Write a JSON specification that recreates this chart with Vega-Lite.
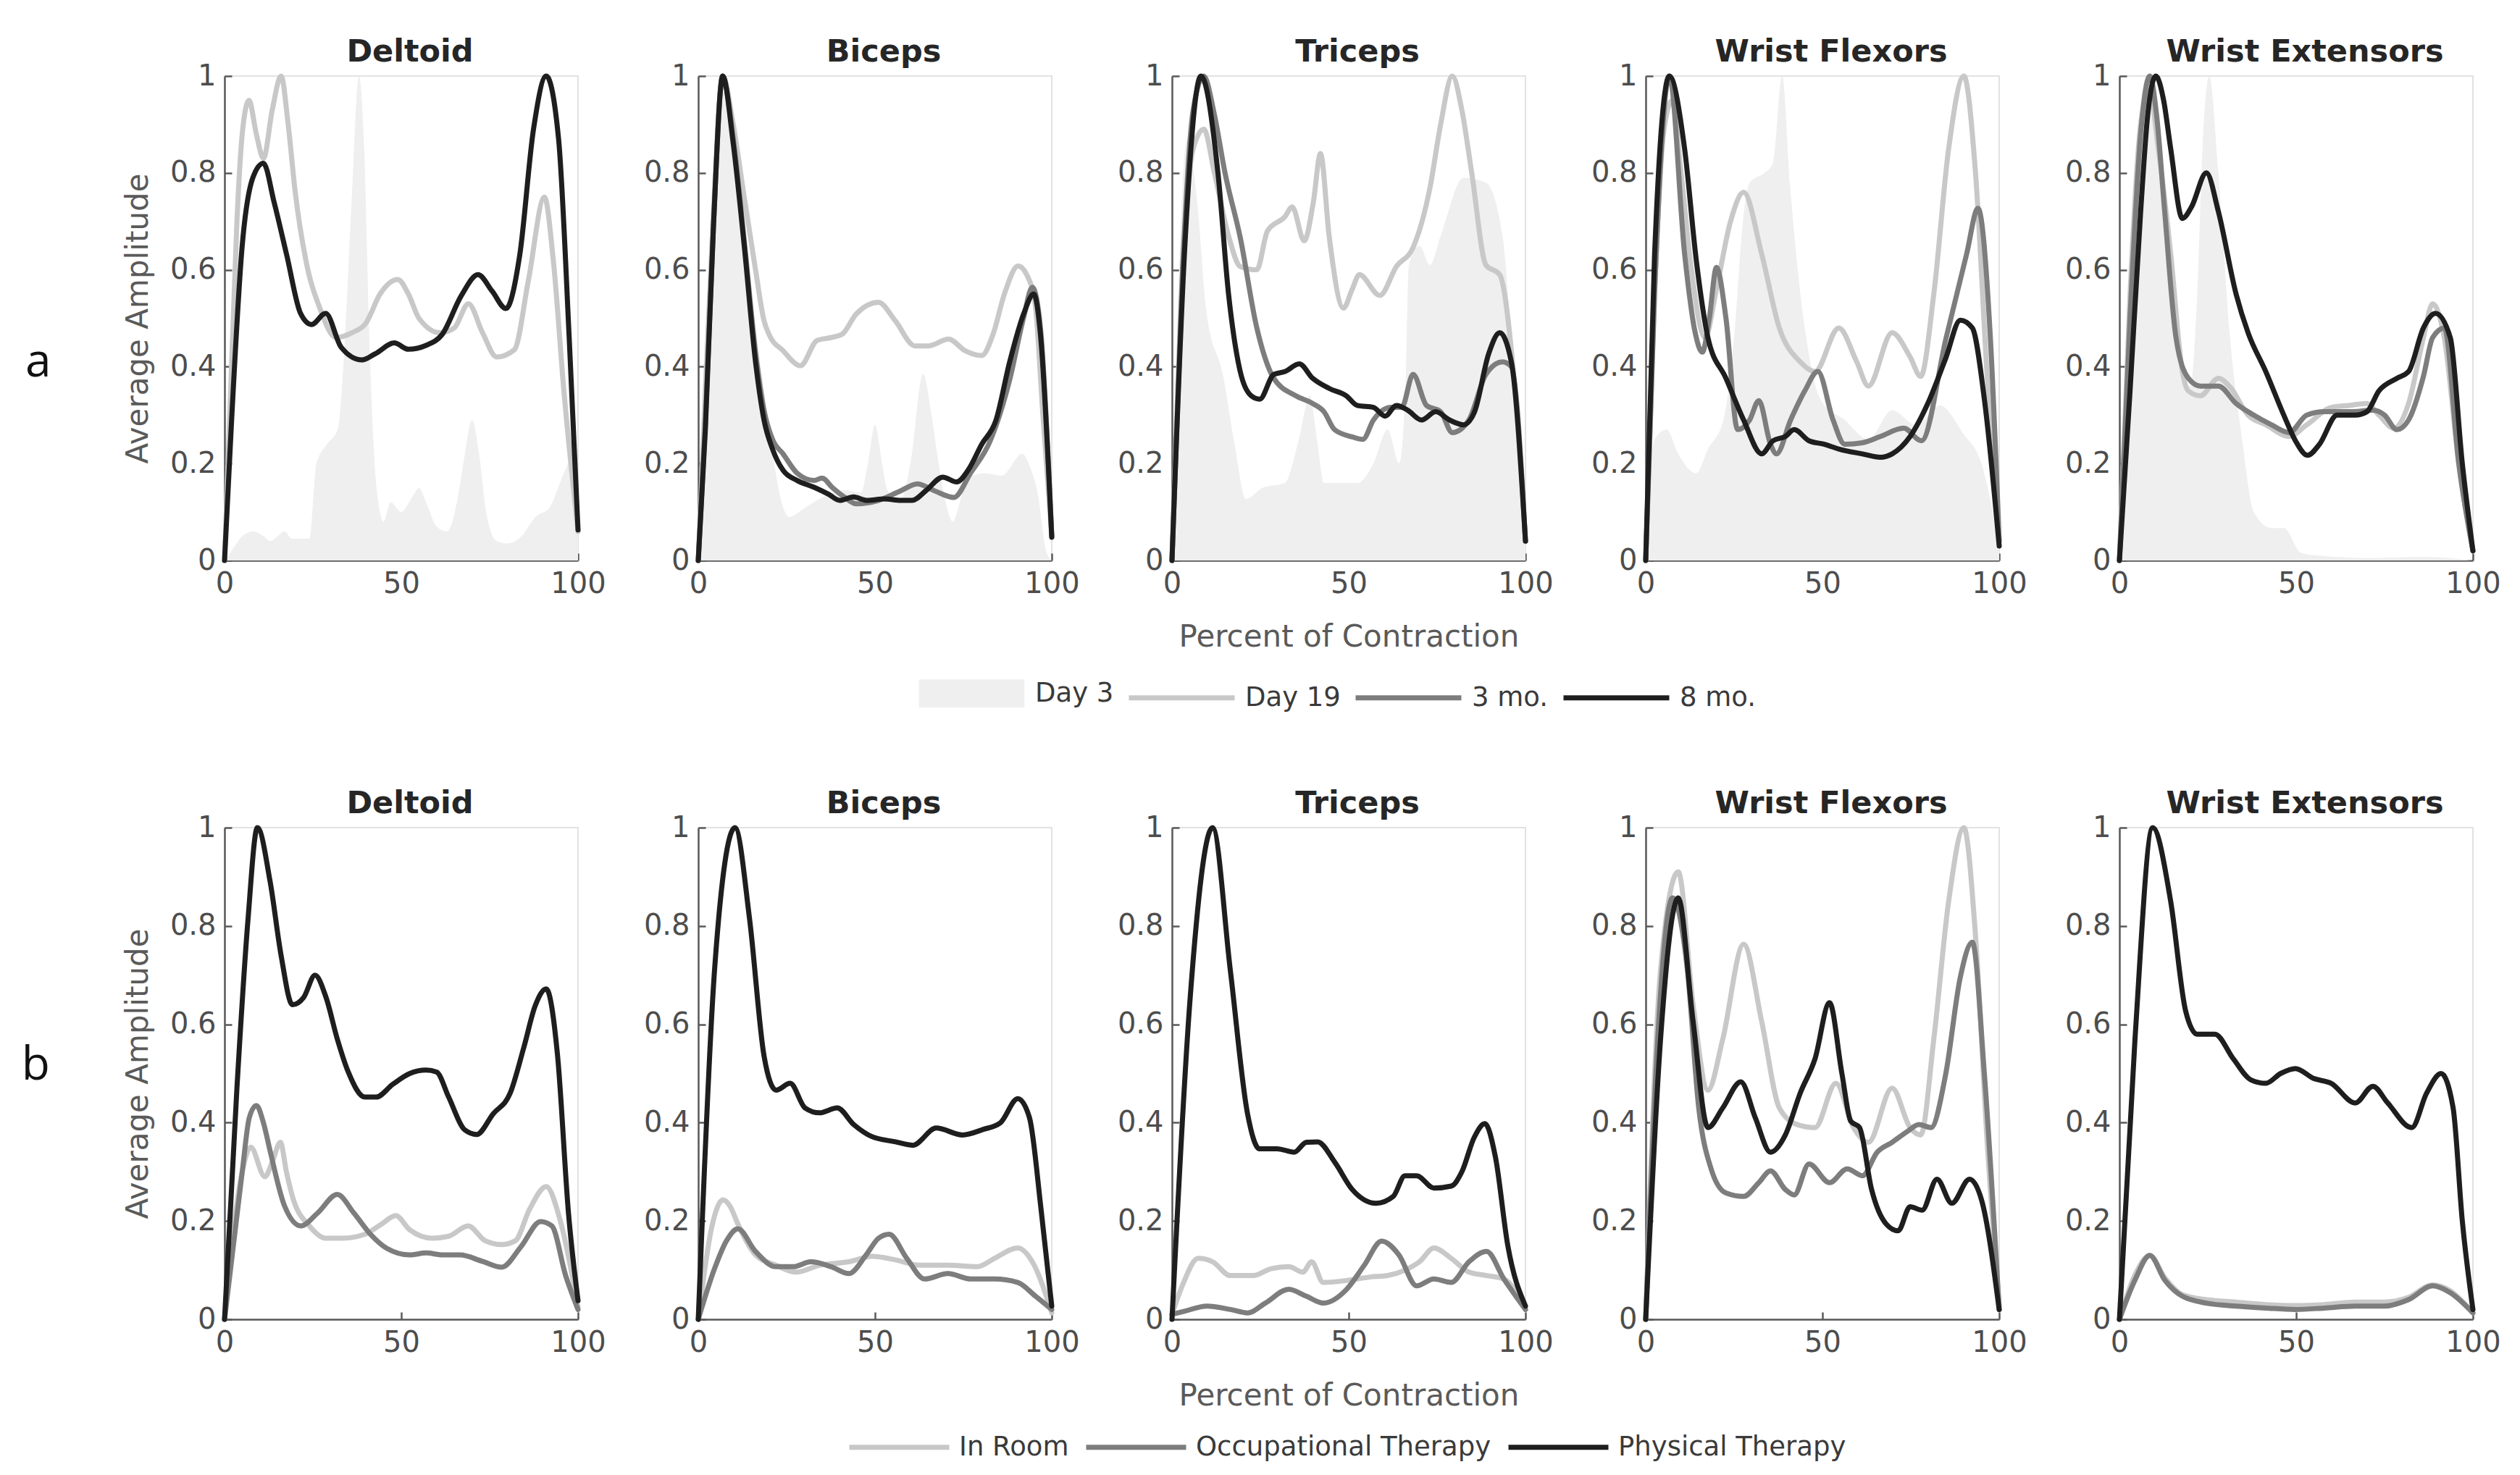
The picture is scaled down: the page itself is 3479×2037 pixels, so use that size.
{
"$schema": "https://vega.github.io/schema/vega-lite/v6.json",
"background": "white",
"padding": {"left": 29, "top": 50, "right": 5, "bottom": 5},
"spacing": 100,
"resolve": {"scale": {"color": "independent"}, "legend": {"color": "independent"}},
"datasets": {
"a": [
{"m":"DEL","s":"Day 3","x":0,"y":0},{"m":"DEL","s":"Day 3","x":2,"y":0.02},{"m":"DEL","s":"Day 3","x":5,"y":0.05},{"m":"DEL","s":"Day 3","x":8,"y":0.06},{"m":"DEL","s":"Day 3","x":11,"y":0.05},{"m":"DEL","s":"Day 3","x":13,"y":0.04},{"m":"DEL","s":"Day 3","x":15,"y":0.05},{"m":"DEL","s":"Day 3","x":17,"y":0.06},{"m":"DEL","s":"Day 3","x":19,"y":0.045},{"m":"DEL","s":"Day 3","x":24,"y":0.045},{"m":"DEL","s":"Day 3","x":26,"y":0.2},{"m":"DEL","s":"Day 3","x":29,"y":0.24},{"m":"DEL","s":"Day 3","x":32,"y":0.27},{"m":"DEL","s":"Day 3","x":34,"y":0.45},{"m":"DEL","s":"Day 3","x":36,"y":0.75},{"m":"DEL","s":"Day 3","x":38,"y":1},{"m":"DEL","s":"Day 3","x":39.5,"y":0.85},{"m":"DEL","s":"Day 3","x":41,"y":0.45},{"m":"DEL","s":"Day 3","x":43,"y":0.15},{"m":"DEL","s":"Day 3","x":45,"y":0.08},{"m":"DEL","s":"Day 3","x":47,"y":0.12},{"m":"DEL","s":"Day 3","x":50,"y":0.1},{"m":"DEL","s":"Day 3","x":53,"y":0.13},{"m":"DEL","s":"Day 3","x":55,"y":0.15},{"m":"DEL","s":"Day 3","x":57,"y":0.12},{"m":"DEL","s":"Day 3","x":60,"y":0.07},{"m":"DEL","s":"Day 3","x":63,"y":0.06},{"m":"DEL","s":"Day 3","x":66,"y":0.13},{"m":"DEL","s":"Day 3","x":68,"y":0.22},{"m":"DEL","s":"Day 3","x":70,"y":0.29},{"m":"DEL","s":"Day 3","x":72,"y":0.22},{"m":"DEL","s":"Day 3","x":74,"y":0.1},{"m":"DEL","s":"Day 3","x":77,"y":0.04},{"m":"DEL","s":"Day 3","x":80,"y":0.035},{"m":"DEL","s":"Day 3","x":84,"y":0.05},{"m":"DEL","s":"Day 3","x":88,"y":0.09},{"m":"DEL","s":"Day 3","x":92,"y":0.11},{"m":"DEL","s":"Day 3","x":96,"y":0.18},{"m":"DEL","s":"Day 3","x":99,"y":0.22},{"m":"DEL","s":"Day 3","x":100,"y":0.05},
{"m":"DEL","s":"Day 19","x":0,"y":0},{"m":"DEL","s":"Day 19","x":1.5,"y":0.3},{"m":"DEL","s":"Day 19","x":3.5,"y":0.7},{"m":"DEL","s":"Day 19","x":5,"y":0.88},{"m":"DEL","s":"Day 19","x":6.9,"y":0.95},{"m":"DEL","s":"Day 19","x":9,"y":0.88},{"m":"DEL","s":"Day 19","x":11,"y":0.83},{"m":"DEL","s":"Day 19","x":13.5,"y":0.93},{"m":"DEL","s":"Day 19","x":16,"y":1},{"m":"DEL","s":"Day 19","x":18,"y":0.9},{"m":"DEL","s":"Day 19","x":20,"y":0.76},{"m":"DEL","s":"Day 19","x":23,"y":0.62},{"m":"DEL","s":"Day 19","x":27,"y":0.52},{"m":"DEL","s":"Day 19","x":31.5,"y":0.46},{"m":"DEL","s":"Day 19","x":36,"y":0.47},{"m":"DEL","s":"Day 19","x":40,"y":0.49},{"m":"DEL","s":"Day 19","x":44,"y":0.55},{"m":"DEL","s":"Day 19","x":49,"y":0.58},{"m":"DEL","s":"Day 19","x":52,"y":0.55},{"m":"DEL","s":"Day 19","x":55,"y":0.5},{"m":"DEL","s":"Day 19","x":61,"y":0.47},{"m":"DEL","s":"Day 19","x":65,"y":0.48},{"m":"DEL","s":"Day 19","x":69,"y":0.53},{"m":"DEL","s":"Day 19","x":73,"y":0.47},{"m":"DEL","s":"Day 19","x":77,"y":0.42},{"m":"DEL","s":"Day 19","x":82,"y":0.435},{"m":"DEL","s":"Day 19","x":86,"y":0.58},{"m":"DEL","s":"Day 19","x":90.5,"y":0.75},{"m":"DEL","s":"Day 19","x":93,"y":0.62},{"m":"DEL","s":"Day 19","x":96,"y":0.35},{"m":"DEL","s":"Day 19","x":100,"y":0.06},
{"m":"DEL","s":"8 mo.","x":0,"y":0},{"m":"DEL","s":"8 mo.","x":2,"y":0.29},{"m":"DEL","s":"8 mo.","x":5,"y":0.65},{"m":"DEL","s":"8 mo.","x":8,"y":0.79},{"m":"DEL","s":"8 mo.","x":11,"y":0.82},{"m":"DEL","s":"8 mo.","x":14,"y":0.74},{"m":"DEL","s":"8 mo.","x":17.6,"y":0.63},{"m":"DEL","s":"8 mo.","x":21.5,"y":0.51},{"m":"DEL","s":"8 mo.","x":24.6,"y":0.487},{"m":"DEL","s":"8 mo.","x":28.6,"y":0.51},{"m":"DEL","s":"8 mo.","x":33,"y":0.44},{"m":"DEL","s":"8 mo.","x":38.8,"y":0.414},{"m":"DEL","s":"8 mo.","x":42.7,"y":0.427},{"m":"DEL","s":"8 mo.","x":48,"y":0.449},{"m":"DEL","s":"8 mo.","x":52,"y":0.436},{"m":"DEL","s":"8 mo.","x":57,"y":0.444},{"m":"DEL","s":"8 mo.","x":61.5,"y":0.466},{"m":"DEL","s":"8 mo.","x":67,"y":0.547},{"m":"DEL","s":"8 mo.","x":71.7,"y":0.59},{"m":"DEL","s":"8 mo.","x":75.7,"y":0.556},{"m":"DEL","s":"8 mo.","x":79.6,"y":0.52},{"m":"DEL","s":"8 mo.","x":83.5,"y":0.63},{"m":"DEL","s":"8 mo.","x":87.4,"y":0.89},{"m":"DEL","s":"8 mo.","x":91,"y":1},{"m":"DEL","s":"8 mo.","x":94.5,"y":0.87},{"m":"DEL","s":"8 mo.","x":97.5,"y":0.46},{"m":"DEL","s":"8 mo.","x":100,"y":0.063},
{"m":"BIC","s":"Day 3","x":0,"y":0},{"m":"BIC","s":"Day 3","x":2,"y":0.41},{"m":"BIC","s":"Day 3","x":4.3,"y":0.76},{"m":"BIC","s":"Day 3","x":6.9,"y":1},{"m":"BIC","s":"Day 3","x":9.9,"y":0.88},{"m":"BIC","s":"Day 3","x":13,"y":0.67},{"m":"BIC","s":"Day 3","x":16.2,"y":0.48},{"m":"BIC","s":"Day 3","x":19.4,"y":0.31},{"m":"BIC","s":"Day 3","x":21.7,"y":0.19},{"m":"BIC","s":"Day 3","x":24,"y":0.11},{"m":"BIC","s":"Day 3","x":25.7,"y":0.09},{"m":"BIC","s":"Day 3","x":30.4,"y":0.11},{"m":"BIC","s":"Day 3","x":35,"y":0.13},{"m":"BIC","s":"Day 3","x":41.5,"y":0.145},{"m":"BIC","s":"Day 3","x":46,"y":0.14},{"m":"BIC","s":"Day 3","x":48,"y":0.2},{"m":"BIC","s":"Day 3","x":50,"y":0.28},{"m":"BIC","s":"Day 3","x":52,"y":0.2},{"m":"BIC","s":"Day 3","x":53.5,"y":0.145},{"m":"BIC","s":"Day 3","x":57,"y":0.12},{"m":"BIC","s":"Day 3","x":60,"y":0.2},{"m":"BIC","s":"Day 3","x":63.6,"y":0.385},{"m":"BIC","s":"Day 3","x":66,"y":0.3},{"m":"BIC","s":"Day 3","x":67.6,"y":0.22},{"m":"BIC","s":"Day 3","x":70,"y":0.12},{"m":"BIC","s":"Day 3","x":72,"y":0.08},{"m":"BIC","s":"Day 3","x":74,"y":0.12},{"m":"BIC","s":"Day 3","x":76,"y":0.17},{"m":"BIC","s":"Day 3","x":81,"y":0.18},{"m":"BIC","s":"Day 3","x":85.8,"y":0.175},{"m":"BIC","s":"Day 3","x":91.7,"y":0.22},{"m":"BIC","s":"Day 3","x":94,"y":0.19},{"m":"BIC","s":"Day 3","x":96,"y":0.14},{"m":"BIC","s":"Day 3","x":98.4,"y":0.02},{"m":"BIC","s":"Day 3","x":100,"y":0},
{"m":"BIC","s":"Day 19","x":0,"y":0},{"m":"BIC","s":"Day 19","x":2,"y":0.35},{"m":"BIC","s":"Day 19","x":4.3,"y":0.72},{"m":"BIC","s":"Day 19","x":6.9,"y":1},{"m":"BIC","s":"Day 19","x":9.9,"y":0.9},{"m":"BIC","s":"Day 19","x":13,"y":0.75},{"m":"BIC","s":"Day 19","x":16.2,"y":0.6},{"m":"BIC","s":"Day 19","x":18.6,"y":0.495},{"m":"BIC","s":"Day 19","x":20,"y":0.467},{"m":"BIC","s":"Day 19","x":24,"y":0.433},{"m":"BIC","s":"Day 19","x":28.9,"y":0.402},{"m":"BIC","s":"Day 19","x":33.6,"y":0.454},{"m":"BIC","s":"Day 19","x":37.5,"y":0.46},{"m":"BIC","s":"Day 19","x":40.7,"y":0.467},{"m":"BIC","s":"Day 19","x":44.7,"y":0.509},{"m":"BIC","s":"Day 19","x":51,"y":0.533},{"m":"BIC","s":"Day 19","x":55.7,"y":0.495},{"m":"BIC","s":"Day 19","x":61.3,"y":0.443},{"m":"BIC","s":"Day 19","x":65.2,"y":0.443},{"m":"BIC","s":"Day 19","x":70.8,"y":0.457},{"m":"BIC","s":"Day 19","x":75.5,"y":0.433},{"m":"BIC","s":"Day 19","x":80.2,"y":0.423},{"m":"BIC","s":"Day 19","x":83.4,"y":0.467},{"m":"BIC","s":"Day 19","x":86.6,"y":0.55},{"m":"BIC","s":"Day 19","x":90.5,"y":0.608},{"m":"BIC","s":"Day 19","x":92.9,"y":0.59},{"m":"BIC","s":"Day 19","x":95.3,"y":0.53},{"m":"BIC","s":"Day 19","x":97.5,"y":0.3},{"m":"BIC","s":"Day 19","x":100,"y":0.05},
{"m":"BIC","s":"3 mo.","x":0,"y":0},{"m":"BIC","s":"3 mo.","x":2,"y":0.28},{"m":"BIC","s":"3 mo.","x":4.3,"y":0.69},{"m":"BIC","s":"3 mo.","x":6.9,"y":1},{"m":"BIC","s":"3 mo.","x":9.9,"y":0.87},{"m":"BIC","s":"3 mo.","x":13,"y":0.66},{"m":"BIC","s":"3 mo.","x":16.2,"y":0.43},{"m":"BIC","s":"3 mo.","x":18.6,"y":0.31},{"m":"BIC","s":"3 mo.","x":21,"y":0.25},{"m":"BIC","s":"3 mo.","x":24,"y":0.22},{"m":"BIC","s":"3 mo.","x":28,"y":0.18},{"m":"BIC","s":"3 mo.","x":32.8,"y":0.165},{"m":"BIC","s":"3 mo.","x":35,"y":0.17},{"m":"BIC","s":"3 mo.","x":38,"y":0.15},{"m":"BIC","s":"3 mo.","x":41.5,"y":0.13},{"m":"BIC","s":"3 mo.","x":44.7,"y":0.117},{"m":"BIC","s":"3 mo.","x":51,"y":0.124},{"m":"BIC","s":"3 mo.","x":57.3,"y":0.144},{"m":"BIC","s":"3 mo.","x":62,"y":0.158},{"m":"BIC","s":"3 mo.","x":66.8,"y":0.144},{"m":"BIC","s":"3 mo.","x":72.3,"y":0.13},{"m":"BIC","s":"3 mo.","x":77,"y":0.18},{"m":"BIC","s":"3 mo.","x":82.6,"y":0.247},{"m":"BIC","s":"3 mo.","x":88,"y":0.37},{"m":"BIC","s":"3 mo.","x":92,"y":0.5},{"m":"BIC","s":"3 mo.","x":94.5,"y":0.564},{"m":"BIC","s":"3 mo.","x":96.8,"y":0.48},{"m":"BIC","s":"3 mo.","x":100,"y":0.05},
{"m":"BIC","s":"8 mo.","x":0,"y":0},{"m":"BIC","s":"8 mo.","x":2,"y":0.27},{"m":"BIC","s":"8 mo.","x":4.3,"y":0.69},{"m":"BIC","s":"8 mo.","x":6.9,"y":1},{"m":"BIC","s":"8 mo.","x":9.9,"y":0.86},{"m":"BIC","s":"8 mo.","x":13,"y":0.65},{"m":"BIC","s":"8 mo.","x":16.2,"y":0.41},{"m":"BIC","s":"8 mo.","x":18.6,"y":0.29},{"m":"BIC","s":"8 mo.","x":21,"y":0.23},{"m":"BIC","s":"8 mo.","x":24,"y":0.186},{"m":"BIC","s":"8 mo.","x":28,"y":0.165},{"m":"BIC","s":"8 mo.","x":32.8,"y":0.151},{"m":"BIC","s":"8 mo.","x":36.8,"y":0.137},{"m":"BIC","s":"8 mo.","x":40,"y":0.124},{"m":"BIC","s":"8 mo.","x":43.9,"y":0.131},{"m":"BIC","s":"8 mo.","x":47.8,"y":0.124},{"m":"BIC","s":"8 mo.","x":52.6,"y":0.127},{"m":"BIC","s":"8 mo.","x":57.3,"y":0.124},{"m":"BIC","s":"8 mo.","x":60.5,"y":0.124},{"m":"BIC","s":"8 mo.","x":64.4,"y":0.144},{"m":"BIC","s":"8 mo.","x":69.2,"y":0.172},{"m":"BIC","s":"8 mo.","x":73.1,"y":0.162},{"m":"BIC","s":"8 mo.","x":76.3,"y":0.186},{"m":"BIC","s":"8 mo.","x":80.2,"y":0.24},{"m":"BIC","s":"8 mo.","x":84.2,"y":0.289},{"m":"BIC","s":"8 mo.","x":88.1,"y":0.41},{"m":"BIC","s":"8 mo.","x":92.1,"y":0.51},{"m":"BIC","s":"8 mo.","x":94.9,"y":0.55},{"m":"BIC","s":"8 mo.","x":96.8,"y":0.467},{"m":"BIC","s":"8 mo.","x":100,"y":0.048},
{"m":"TRI","s":"Day 3","x":0,"y":0},{"m":"TRI","s":"Day 3","x":2,"y":0.6},{"m":"TRI","s":"Day 3","x":4.3,"y":0.87},{"m":"TRI","s":"Day 3","x":7,"y":0.75},{"m":"TRI","s":"Day 3","x":9.8,"y":0.51},{"m":"TRI","s":"Day 3","x":14.5,"y":0.38},{"m":"TRI","s":"Day 3","x":17.7,"y":0.24},{"m":"TRI","s":"Day 3","x":20.9,"y":0.127},{"m":"TRI","s":"Day 3","x":25.6,"y":0.15},{"m":"TRI","s":"Day 3","x":31.9,"y":0.16},{"m":"TRI","s":"Day 3","x":35.9,"y":0.25},{"m":"TRI","s":"Day 3","x":39,"y":0.34},{"m":"TRI","s":"Day 3","x":41,"y":0.25},{"m":"TRI","s":"Day 3","x":43,"y":0.16},{"m":"TRI","s":"Day 3","x":48.5,"y":0.16},{"m":"TRI","s":"Day 3","x":52.4,"y":0.16},{"m":"TRI","s":"Day 3","x":57,"y":0.2},{"m":"TRI","s":"Day 3","x":61,"y":0.27},{"m":"TRI","s":"Day 3","x":64.3,"y":0.2},{"m":"TRI","s":"Day 3","x":66,"y":0.35},{"m":"TRI","s":"Day 3","x":67,"y":0.61},{"m":"TRI","s":"Day 3","x":70,"y":0.65},{"m":"TRI","s":"Day 3","x":73,"y":0.61},{"m":"TRI","s":"Day 3","x":76,"y":0.67},{"m":"TRI","s":"Day 3","x":82.5,"y":0.79},{"m":"TRI","s":"Day 3","x":88.8,"y":0.78},{"m":"TRI","s":"Day 3","x":93.5,"y":0.67},{"m":"TRI","s":"Day 3","x":96.7,"y":0.38},{"m":"TRI","s":"Day 3","x":100,"y":0.04},
{"m":"TRI","s":"Day 19","x":0,"y":0},{"m":"TRI","s":"Day 19","x":3,"y":0.6},{"m":"TRI","s":"Day 19","x":6,"y":0.85},{"m":"TRI","s":"Day 19","x":9,"y":0.89},{"m":"TRI","s":"Day 19","x":12,"y":0.8},{"m":"TRI","s":"Day 19","x":16,"y":0.67},{"m":"TRI","s":"Day 19","x":19.3,"y":0.607},{"m":"TRI","s":"Day 19","x":24,"y":0.6},{"m":"TRI","s":"Day 19","x":27,"y":0.68},{"m":"TRI","s":"Day 19","x":32,"y":0.71},{"m":"TRI","s":"Day 19","x":34,"y":0.73},{"m":"TRI","s":"Day 19","x":37.4,"y":0.66},{"m":"TRI","s":"Day 19","x":40,"y":0.74},{"m":"TRI","s":"Day 19","x":42,"y":0.84},{"m":"TRI","s":"Day 19","x":44.5,"y":0.667},{"m":"TRI","s":"Day 19","x":48.5,"y":0.521},{"m":"TRI","s":"Day 19","x":51,"y":0.56},{"m":"TRI","s":"Day 19","x":53,"y":0.59},{"m":"TRI","s":"Day 19","x":58.8,"y":0.547},{"m":"TRI","s":"Day 19","x":63.5,"y":0.607},{"m":"TRI","s":"Day 19","x":68.2,"y":0.646},{"m":"TRI","s":"Day 19","x":73,"y":0.77},{"m":"TRI","s":"Day 19","x":76,"y":0.9},{"m":"TRI","s":"Day 19","x":79.3,"y":1},{"m":"TRI","s":"Day 19","x":82,"y":0.93},{"m":"TRI","s":"Day 19","x":84.8,"y":0.8},{"m":"TRI","s":"Day 19","x":88.8,"y":0.61},{"m":"TRI","s":"Day 19","x":92.7,"y":0.59},{"m":"TRI","s":"Day 19","x":96.7,"y":0.38},{"m":"TRI","s":"Day 19","x":100,"y":0.04},
{"m":"TRI","s":"3 mo.","x":0,"y":0},{"m":"TRI","s":"3 mo.","x":3,"y":0.6},{"m":"TRI","s":"3 mo.","x":6,"y":0.93},{"m":"TRI","s":"3 mo.","x":9,"y":1},{"m":"TRI","s":"3 mo.","x":12,"y":0.92},{"m":"TRI","s":"3 mo.","x":15,"y":0.8},{"m":"TRI","s":"3 mo.","x":19.3,"y":0.667},{"m":"TRI","s":"3 mo.","x":24,"y":0.48},{"m":"TRI","s":"3 mo.","x":28.8,"y":0.376},{"m":"TRI","s":"3 mo.","x":35,"y":0.34},{"m":"TRI","s":"3 mo.","x":39.8,"y":0.324},{"m":"TRI","s":"3 mo.","x":43,"y":0.307},{"m":"TRI","s":"3 mo.","x":46,"y":0.27},{"m":"TRI","s":"3 mo.","x":51,"y":0.255},{"m":"TRI","s":"3 mo.","x":54,"y":0.25},{"m":"TRI","s":"3 mo.","x":57,"y":0.29},{"m":"TRI","s":"3 mo.","x":62,"y":0.316},{"m":"TRI","s":"3 mo.","x":65,"y":0.316},{"m":"TRI","s":"3 mo.","x":68.2,"y":0.384},{"m":"TRI","s":"3 mo.","x":72,"y":0.32},{"m":"TRI","s":"3 mo.","x":76,"y":0.307},{"m":"TRI","s":"3 mo.","x":79.3,"y":0.264},{"m":"TRI","s":"3 mo.","x":84,"y":0.29},{"m":"TRI","s":"3 mo.","x":88.8,"y":0.384},{"m":"TRI","s":"3 mo.","x":93.5,"y":0.41},{"m":"TRI","s":"3 mo.","x":96,"y":0.4},{"m":"TRI","s":"3 mo.","x":100,"y":0.04},
{"m":"TRI","s":"8 mo.","x":0,"y":0},{"m":"TRI","s":"8 mo.","x":3.5,"y":0.63},{"m":"TRI","s":"8 mo.","x":8.2,"y":1},{"m":"TRI","s":"8 mo.","x":13,"y":0.8},{"m":"TRI","s":"8 mo.","x":16,"y":0.55},{"m":"TRI","s":"8 mo.","x":19.3,"y":0.39},{"m":"TRI","s":"8 mo.","x":22.4,"y":0.34},{"m":"TRI","s":"8 mo.","x":24.8,"y":0.333},{"m":"TRI","s":"8 mo.","x":28.8,"y":0.384},{"m":"TRI","s":"8 mo.","x":32,"y":0.39},{"m":"TRI","s":"8 mo.","x":36,"y":0.406},{"m":"TRI","s":"8 mo.","x":39.8,"y":0.376},{"m":"TRI","s":"8 mo.","x":44.5,"y":0.355},{"m":"TRI","s":"8 mo.","x":49.3,"y":0.34},{"m":"TRI","s":"8 mo.","x":52.4,"y":0.32},{"m":"TRI","s":"8 mo.","x":57,"y":0.316},{"m":"TRI","s":"8 mo.","x":60.3,"y":0.298},{"m":"TRI","s":"8 mo.","x":63.5,"y":0.32},{"m":"TRI","s":"8 mo.","x":66.7,"y":0.31},{"m":"TRI","s":"8 mo.","x":70.6,"y":0.29},{"m":"TRI","s":"8 mo.","x":74.6,"y":0.307},{"m":"TRI","s":"8 mo.","x":78.5,"y":0.29},{"m":"TRI","s":"8 mo.","x":82.5,"y":0.28},{"m":"TRI","s":"8 mo.","x":85.6,"y":0.307},{"m":"TRI","s":"8 mo.","x":89.6,"y":0.427},{"m":"TRI","s":"8 mo.","x":92.7,"y":0.47},{"m":"TRI","s":"8 mo.","x":96,"y":0.41},{"m":"TRI","s":"8 mo.","x":100,"y":0.04},
{"m":"WFL","s":"Day 3","x":0,"y":0},{"m":"WFL","s":"Day 3","x":1,"y":0.15},{"m":"WFL","s":"Day 3","x":2.5,"y":0.25},{"m":"WFL","s":"Day 3","x":5.9,"y":0.27},{"m":"WFL","s":"Day 3","x":9.2,"y":0.22},{"m":"WFL","s":"Day 3","x":12,"y":0.19},{"m":"WFL","s":"Day 3","x":14.3,"y":0.18},{"m":"WFL","s":"Day 3","x":17.6,"y":0.23},{"m":"WFL","s":"Day 3","x":22,"y":0.29},{"m":"WFL","s":"Day 3","x":25,"y":0.46},{"m":"WFL","s":"Day 3","x":27.5,"y":0.7},{"m":"WFL","s":"Day 3","x":29.4,"y":0.78},{"m":"WFL","s":"Day 3","x":33.6,"y":0.8},{"m":"WFL","s":"Day 3","x":36,"y":0.82},{"m":"WFL","s":"Day 3","x":38.6,"y":1},{"m":"WFL","s":"Day 3","x":41,"y":0.76},{"m":"WFL","s":"Day 3","x":43,"y":0.6},{"m":"WFL","s":"Day 3","x":45.4,"y":0.46},{"m":"WFL","s":"Day 3","x":49.6,"y":0.33},{"m":"WFL","s":"Day 3","x":56.3,"y":0.29},{"m":"WFL","s":"Day 3","x":63,"y":0.25},{"m":"WFL","s":"Day 3","x":69.7,"y":0.31},{"m":"WFL","s":"Day 3","x":76.5,"y":0.28},{"m":"WFL","s":"Day 3","x":83.2,"y":0.32},{"m":"WFL","s":"Day 3","x":90,"y":0.26},{"m":"WFL","s":"Day 3","x":95,"y":0.2},{"m":"WFL","s":"Day 3","x":100,"y":0.03},
{"m":"WFL","s":"Day 19","x":0,"y":0},{"m":"WFL","s":"Day 19","x":2.5,"y":0.55},{"m":"WFL","s":"Day 19","x":5,"y":0.88},{"m":"WFL","s":"Day 19","x":7.5,"y":0.95},{"m":"WFL","s":"Day 19","x":10,"y":0.8},{"m":"WFL","s":"Day 19","x":12.6,"y":0.62},{"m":"WFL","s":"Day 19","x":16.8,"y":0.46},{"m":"WFL","s":"Day 19","x":20,"y":0.56},{"m":"WFL","s":"Day 19","x":24,"y":0.7},{"m":"WFL","s":"Day 19","x":27.7,"y":0.76},{"m":"WFL","s":"Day 19","x":32.8,"y":0.633},{"m":"WFL","s":"Day 19","x":37.8,"y":0.48},{"m":"WFL","s":"Day 19","x":43.7,"y":0.41},{"m":"WFL","s":"Day 19","x":47.9,"y":0.39},{"m":"WFL","s":"Day 19","x":54.6,"y":0.48},{"m":"WFL","s":"Day 19","x":59.7,"y":0.41},{"m":"WFL","s":"Day 19","x":63,"y":0.36},{"m":"WFL","s":"Day 19","x":69.7,"y":0.47},{"m":"WFL","s":"Day 19","x":74.8,"y":0.42},{"m":"WFL","s":"Day 19","x":77.8,"y":0.38},{"m":"WFL","s":"Day 19","x":81.5,"y":0.55},{"m":"WFL","s":"Day 19","x":85.7,"y":0.85},{"m":"WFL","s":"Day 19","x":90,"y":1},{"m":"WFL","s":"Day 19","x":93.3,"y":0.8},{"m":"WFL","s":"Day 19","x":96.6,"y":0.38},{"m":"WFL","s":"Day 19","x":100,"y":0.04},
{"m":"WFL","s":"3 mo.","x":0,"y":0},{"m":"WFL","s":"3 mo.","x":2.5,"y":0.55},{"m":"WFL","s":"3 mo.","x":6.7,"y":1},{"m":"WFL","s":"3 mo.","x":11,"y":0.633},{"m":"WFL","s":"3 mo.","x":14,"y":0.47},{"m":"WFL","s":"3 mo.","x":16,"y":0.43},{"m":"WFL","s":"3 mo.","x":18,"y":0.5},{"m":"WFL","s":"3 mo.","x":20,"y":0.605},{"m":"WFL","s":"3 mo.","x":22.7,"y":0.5},{"m":"WFL","s":"3 mo.","x":26,"y":0.27},{"m":"WFL","s":"3 mo.","x":29.4,"y":0.29},{"m":"WFL","s":"3 mo.","x":32,"y":0.33},{"m":"WFL","s":"3 mo.","x":35.3,"y":0.24},{"m":"WFL","s":"3 mo.","x":37,"y":0.22},{"m":"WFL","s":"3 mo.","x":41,"y":0.29},{"m":"WFL","s":"3 mo.","x":45,"y":0.35},{"m":"WFL","s":"3 mo.","x":48.7,"y":0.39},{"m":"WFL","s":"3 mo.","x":53,"y":0.29},{"m":"WFL","s":"3 mo.","x":56.3,"y":0.24},{"m":"WFL","s":"3 mo.","x":61.3,"y":0.243},{"m":"WFL","s":"3 mo.","x":66.4,"y":0.256},{"m":"WFL","s":"3 mo.","x":73,"y":0.273},{"m":"WFL","s":"3 mo.","x":78,"y":0.247},{"m":"WFL","s":"3 mo.","x":85,"y":0.46},{"m":"WFL","s":"3 mo.","x":90.8,"y":0.633},{"m":"WFL","s":"3 mo.","x":94,"y":0.727},{"m":"WFL","s":"3 mo.","x":97.5,"y":0.46},{"m":"WFL","s":"3 mo.","x":100,"y":0.04},
{"m":"WFL","s":"8 mo.","x":0,"y":0},{"m":"WFL","s":"8 mo.","x":2.5,"y":0.63},{"m":"WFL","s":"8 mo.","x":6.7,"y":1},{"m":"WFL","s":"8 mo.","x":11,"y":0.85},{"m":"WFL","s":"8 mo.","x":14.3,"y":0.62},{"m":"WFL","s":"8 mo.","x":17.6,"y":0.46},{"m":"WFL","s":"8 mo.","x":22.7,"y":0.376},{"m":"WFL","s":"8 mo.","x":27.7,"y":0.29},{"m":"WFL","s":"8 mo.","x":32.8,"y":0.22},{"m":"WFL","s":"8 mo.","x":36,"y":0.247},{"m":"WFL","s":"8 mo.","x":39.5,"y":0.256},{"m":"WFL","s":"8 mo.","x":42,"y":0.27},{"m":"WFL","s":"8 mo.","x":46.2,"y":0.247},{"m":"WFL","s":"8 mo.","x":50.4,"y":0.24},{"m":"WFL","s":"8 mo.","x":54.6,"y":0.23},{"m":"WFL","s":"8 mo.","x":61.3,"y":0.22},{"m":"WFL","s":"8 mo.","x":66.4,"y":0.213},{"m":"WFL","s":"8 mo.","x":69.7,"y":0.22},{"m":"WFL","s":"8 mo.","x":74.8,"y":0.256},{"m":"WFL","s":"8 mo.","x":79.8,"y":0.324},{"m":"WFL","s":"8 mo.","x":84.9,"y":0.418},{"m":"WFL","s":"8 mo.","x":89,"y":0.496},{"m":"WFL","s":"8 mo.","x":92.4,"y":0.48},{"m":"WFL","s":"8 mo.","x":95.8,"y":0.333},{"m":"WFL","s":"8 mo.","x":100,"y":0.03},
{"m":"WEX","s":"Day 3","x":0,"y":0},{"m":"WEX","s":"Day 3","x":3,"y":0.6},{"m":"WEX","s":"Day 3","x":6,"y":0.95},{"m":"WEX","s":"Day 3","x":8,"y":1},{"m":"WEX","s":"Day 3","x":11,"y":0.88},{"m":"WEX","s":"Day 3","x":14.5,"y":0.6},{"m":"WEX","s":"Day 3","x":17.8,"y":0.4},{"m":"WEX","s":"Day 3","x":20,"y":0.36},{"m":"WEX","s":"Day 3","x":22,"y":0.55},{"m":"WEX","s":"Day 3","x":23.5,"y":0.85},{"m":"WEX","s":"Day 3","x":25.4,"y":1},{"m":"WEX","s":"Day 3","x":28,"y":0.8},{"m":"WEX","s":"Day 3","x":31.3,"y":0.46},{"m":"WEX","s":"Day 3","x":34.7,"y":0.25},{"m":"WEX","s":"Day 3","x":38,"y":0.1},{"m":"WEX","s":"Day 3","x":43,"y":0.067},{"m":"WEX","s":"Day 3","x":46.5,"y":0.067},{"m":"WEX","s":"Day 3","x":51.5,"y":0.015},{"m":"WEX","s":"Day 3","x":61.6,"y":0.007},{"m":"WEX","s":"Day 3","x":70,"y":0.005},{"m":"WEX","s":"Day 3","x":87,"y":0.007},{"m":"WEX","s":"Day 3","x":100,"y":0},
{"m":"WEX","s":"Day 19","x":0,"y":0},{"m":"WEX","s":"Day 19","x":3,"y":0.55},{"m":"WEX","s":"Day 19","x":6,"y":0.9},{"m":"WEX","s":"Day 19","x":8.5,"y":0.97},{"m":"WEX","s":"Day 19","x":11,"y":0.85},{"m":"WEX","s":"Day 19","x":14.5,"y":0.633},{"m":"WEX","s":"Day 19","x":17.8,"y":0.39},{"m":"WEX","s":"Day 19","x":19.5,"y":0.35},{"m":"WEX","s":"Day 19","x":22.9,"y":0.34},{"m":"WEX","s":"Day 19","x":28,"y":0.376},{"m":"WEX","s":"Day 19","x":31.3,"y":0.358},{"m":"WEX","s":"Day 19","x":36.4,"y":0.3},{"m":"WEX","s":"Day 19","x":41.4,"y":0.28},{"m":"WEX","s":"Day 19","x":48,"y":0.256},{"m":"WEX","s":"Day 19","x":53,"y":0.28},{"m":"WEX","s":"Day 19","x":60,"y":0.316},{"m":"WEX","s":"Day 19","x":65,"y":0.32},{"m":"WEX","s":"Day 19","x":70,"y":0.324},{"m":"WEX","s":"Day 19","x":73.4,"y":0.3},{"m":"WEX","s":"Day 19","x":77.6,"y":0.273},{"m":"WEX","s":"Day 19","x":81.8,"y":0.324},{"m":"WEX","s":"Day 19","x":86,"y":0.46},{"m":"WEX","s":"Day 19","x":88.6,"y":0.53},{"m":"WEX","s":"Day 19","x":91.9,"y":0.46},{"m":"WEX","s":"Day 19","x":96,"y":0.2},{"m":"WEX","s":"Day 19","x":100,"y":0.02},
{"m":"WEX","s":"3 mo.","x":0,"y":0},{"m":"WEX","s":"3 mo.","x":3,"y":0.5},{"m":"WEX","s":"3 mo.","x":6,"y":0.88},{"m":"WEX","s":"3 mo.","x":8.6,"y":1},{"m":"WEX","s":"3 mo.","x":10.5,"y":0.92},{"m":"WEX","s":"3 mo.","x":12.8,"y":0.72},{"m":"WEX","s":"3 mo.","x":16,"y":0.46},{"m":"WEX","s":"3 mo.","x":19.5,"y":0.376},{"m":"WEX","s":"3 mo.","x":22.9,"y":0.36},{"m":"WEX","s":"3 mo.","x":28,"y":0.36},{"m":"WEX","s":"3 mo.","x":33,"y":0.324},{"m":"WEX","s":"3 mo.","x":38,"y":0.3},{"m":"WEX","s":"3 mo.","x":43,"y":0.28},{"m":"WEX","s":"3 mo.","x":48,"y":0.264},{"m":"WEX","s":"3 mo.","x":53,"y":0.3},{"m":"WEX","s":"3 mo.","x":58,"y":0.307},{"m":"WEX","s":"3 mo.","x":65,"y":0.307},{"m":"WEX","s":"3 mo.","x":71.7,"y":0.31},{"m":"WEX","s":"3 mo.","x":75,"y":0.3},{"m":"WEX","s":"3 mo.","x":78.5,"y":0.27},{"m":"WEX","s":"3 mo.","x":81.8,"y":0.29},{"m":"WEX","s":"3 mo.","x":86,"y":0.38},{"m":"WEX","s":"3 mo.","x":88.6,"y":0.46},{"m":"WEX","s":"3 mo.","x":91.9,"y":0.48},{"m":"WEX","s":"3 mo.","x":96,"y":0.2},{"m":"WEX","s":"3 mo.","x":100,"y":0.02},
{"m":"WEX","s":"8 mo.","x":0,"y":0},{"m":"WEX","s":"8 mo.","x":3,"y":0.35},{"m":"WEX","s":"8 mo.","x":6,"y":0.72},{"m":"WEX","s":"8 mo.","x":8,"y":0.92},{"m":"WEX","s":"8 mo.","x":10.3,"y":1},{"m":"WEX","s":"8 mo.","x":12.5,"y":0.95},{"m":"WEX","s":"8 mo.","x":14.5,"y":0.85},{"m":"WEX","s":"8 mo.","x":17.8,"y":0.706},{"m":"WEX","s":"8 mo.","x":20.4,"y":0.73},{"m":"WEX","s":"8 mo.","x":24.6,"y":0.8},{"m":"WEX","s":"8 mo.","x":28,"y":0.72},{"m":"WEX","s":"8 mo.","x":33,"y":0.55},{"m":"WEX","s":"8 mo.","x":36.4,"y":0.47},{"m":"WEX","s":"8 mo.","x":41.4,"y":0.39},{"m":"WEX","s":"8 mo.","x":46.5,"y":0.3},{"m":"WEX","s":"8 mo.","x":49.8,"y":0.247},{"m":"WEX","s":"8 mo.","x":53.2,"y":0.217},{"m":"WEX","s":"8 mo.","x":56.6,"y":0.24},{"m":"WEX","s":"8 mo.","x":61.6,"y":0.3},{"m":"WEX","s":"8 mo.","x":66.7,"y":0.3},{"m":"WEX","s":"8 mo.","x":70,"y":0.307},{"m":"WEX","s":"8 mo.","x":73.4,"y":0.35},{"m":"WEX","s":"8 mo.","x":78.5,"y":0.376},{"m":"WEX","s":"8 mo.","x":81.8,"y":0.39},{"m":"WEX","s":"8 mo.","x":86,"y":0.48},{"m":"WEX","s":"8 mo.","x":89.4,"y":0.51},{"m":"WEX","s":"8 mo.","x":93.6,"y":0.46},{"m":"WEX","s":"8 mo.","x":97,"y":0.2},{"m":"WEX","s":"8 mo.","x":100,"y":0.02}
],
"b": [
{"m":"DEL","s":"In Room","x":0,"y":0},{"m":"DEL","s":"In Room","x":2.5,"y":0.18},{"m":"DEL","s":"In Room","x":5,"y":0.3},{"m":"DEL","s":"In Room","x":7.4,"y":0.35},{"m":"DEL","s":"In Room","x":11.4,"y":0.29},{"m":"DEL","s":"In Room","x":13.5,"y":0.32},{"m":"DEL","s":"In Room","x":15.8,"y":0.36},{"m":"DEL","s":"In Room","x":17.5,"y":0.3},{"m":"DEL","s":"In Room","x":19.2,"y":0.25},{"m":"DEL","s":"In Room","x":24,"y":0.19},{"m":"DEL","s":"In Room","x":28.7,"y":0.165},{"m":"DEL","s":"In Room","x":33.4,"y":0.165},{"m":"DEL","s":"In Room","x":39.7,"y":0.173},{"m":"DEL","s":"In Room","x":44.5,"y":0.194},{"m":"DEL","s":"In Room","x":48.4,"y":0.211},{"m":"DEL","s":"In Room","x":52.4,"y":0.182},{"m":"DEL","s":"In Room","x":58.7,"y":0.165},{"m":"DEL","s":"In Room","x":63.4,"y":0.169},{"m":"DEL","s":"In Room","x":68.9,"y":0.19},{"m":"DEL","s":"In Room","x":73.7,"y":0.16},{"m":"DEL","s":"In Room","x":78.4,"y":0.152},{"m":"DEL","s":"In Room","x":82.3,"y":0.16},{"m":"DEL","s":"In Room","x":86.3,"y":0.224},{"m":"DEL","s":"In Room","x":91,"y":0.27},{"m":"DEL","s":"In Room","x":95,"y":0.2},{"m":"DEL","s":"In Room","x":100,"y":0.025},
{"m":"DEL","s":"Occupational Therapy","x":0,"y":0},{"m":"DEL","s":"Occupational Therapy","x":2.5,"y":0.15},{"m":"DEL","s":"Occupational Therapy","x":5,"y":0.3},{"m":"DEL","s":"Occupational Therapy","x":7,"y":0.41},{"m":"DEL","s":"Occupational Therapy","x":9,"y":0.435},{"m":"DEL","s":"Occupational Therapy","x":11,"y":0.4},{"m":"DEL","s":"Occupational Therapy","x":12.9,"y":0.342},{"m":"DEL","s":"Occupational Therapy","x":16.9,"y":0.232},{"m":"DEL","s":"Occupational Therapy","x":21.6,"y":0.19},{"m":"DEL","s":"Occupational Therapy","x":26.3,"y":0.216},{"m":"DEL","s":"Occupational Therapy","x":31.9,"y":0.254},{"m":"DEL","s":"Occupational Therapy","x":36.6,"y":0.216},{"m":"DEL","s":"Occupational Therapy","x":41.3,"y":0.173},{"m":"DEL","s":"Occupational Therapy","x":46,"y":0.144},{"m":"DEL","s":"Occupational Therapy","x":52.4,"y":0.131},{"m":"DEL","s":"Occupational Therapy","x":57,"y":0.135},{"m":"DEL","s":"Occupational Therapy","x":61.8,"y":0.131},{"m":"DEL","s":"Occupational Therapy","x":66.6,"y":0.131},{"m":"DEL","s":"Occupational Therapy","x":72.9,"y":0.118},{"m":"DEL","s":"Occupational Therapy","x":78.4,"y":0.106},{"m":"DEL","s":"Occupational Therapy","x":83.9,"y":0.148},{"m":"DEL","s":"Occupational Therapy","x":89.4,"y":0.199},{"m":"DEL","s":"Occupational Therapy","x":92.6,"y":0.19},{"m":"DEL","s":"Occupational Therapy","x":96.5,"y":0.089},{"m":"DEL","s":"Occupational Therapy","x":100,"y":0.02},
{"m":"DEL","s":"Physical Therapy","x":0,"y":0},{"m":"DEL","s":"Physical Therapy","x":3.5,"y":0.47},{"m":"DEL","s":"Physical Therapy","x":6.6,"y":0.81},{"m":"DEL","s":"Physical Therapy","x":9.3,"y":1},{"m":"DEL","s":"Physical Therapy","x":12.9,"y":0.89},{"m":"DEL","s":"Physical Therapy","x":16,"y":0.74},{"m":"DEL","s":"Physical Therapy","x":19.2,"y":0.64},{"m":"DEL","s":"Physical Therapy","x":22.4,"y":0.655},{"m":"DEL","s":"Physical Therapy","x":25.6,"y":0.7},{"m":"DEL","s":"Physical Therapy","x":28.7,"y":0.655},{"m":"DEL","s":"Physical Therapy","x":31.9,"y":0.57},{"m":"DEL","s":"Physical Therapy","x":35,"y":0.503},{"m":"DEL","s":"Physical Therapy","x":39.7,"y":0.452},{"m":"DEL","s":"Physical Therapy","x":42.9,"y":0.452},{"m":"DEL","s":"Physical Therapy","x":47.6,"y":0.478},{"m":"DEL","s":"Physical Therapy","x":52.4,"y":0.5},{"m":"DEL","s":"Physical Therapy","x":57,"y":0.507},{"m":"DEL","s":"Physical Therapy","x":60,"y":0.503},{"m":"DEL","s":"Physical Therapy","x":63.4,"y":0.452},{"m":"DEL","s":"Physical Therapy","x":68,"y":0.385},{"m":"DEL","s":"Physical Therapy","x":71.3,"y":0.376},{"m":"DEL","s":"Physical Therapy","x":76,"y":0.418},{"m":"DEL","s":"Physical Therapy","x":80.8,"y":0.46},{"m":"DEL","s":"Physical Therapy","x":84.7,"y":0.554},{"m":"DEL","s":"Physical Therapy","x":87.9,"y":0.638},{"m":"DEL","s":"Physical Therapy","x":91,"y":0.672},{"m":"DEL","s":"Physical Therapy","x":94.2,"y":0.537},{"m":"DEL","s":"Physical Therapy","x":97.3,"y":0.216},{"m":"DEL","s":"Physical Therapy","x":100,"y":0.038},
{"m":"BIC","s":"In Room","x":0,"y":0},{"m":"BIC","s":"In Room","x":3.8,"y":0.187},{"m":"BIC","s":"In Room","x":7,"y":0.243},{"m":"BIC","s":"In Room","x":9,"y":0.23},{"m":"BIC","s":"In Room","x":11.2,"y":0.194},{"m":"BIC","s":"In Room","x":16.2,"y":0.131},{"m":"BIC","s":"In Room","x":22,"y":0.11},{"m":"BIC","s":"In Room","x":27.7,"y":0.096},{"m":"BIC","s":"In Room","x":34.3,"y":0.11},{"m":"BIC","s":"In Room","x":42.6,"y":0.117},{"m":"BIC","s":"In Room","x":49.2,"y":0.128},{"m":"BIC","s":"In Room","x":55.8,"y":0.121},{"m":"BIC","s":"In Room","x":62.4,"y":0.11},{"m":"BIC","s":"In Room","x":70.6,"y":0.11},{"m":"BIC","s":"In Room","x":79,"y":0.107},{"m":"BIC","s":"In Room","x":83.8,"y":0.124},{"m":"BIC","s":"In Room","x":90.4,"y":0.145},{"m":"BIC","s":"In Room","x":94.5,"y":0.117},{"m":"BIC","s":"In Room","x":100,"y":0.013},
{"m":"BIC","s":"Occupational Therapy","x":0,"y":0},{"m":"BIC","s":"Occupational Therapy","x":4.6,"y":0.103},{"m":"BIC","s":"Occupational Therapy","x":8,"y":0.16},{"m":"BIC","s":"Occupational Therapy","x":11.2,"y":0.184},{"m":"BIC","s":"Occupational Therapy","x":16.2,"y":0.138},{"m":"BIC","s":"Occupational Therapy","x":22,"y":0.107},{"m":"BIC","s":"Occupational Therapy","x":26.9,"y":0.107},{"m":"BIC","s":"Occupational Therapy","x":31.8,"y":0.117},{"m":"BIC","s":"Occupational Therapy","x":37.6,"y":0.107},{"m":"BIC","s":"Occupational Therapy","x":42.6,"y":0.093},{"m":"BIC","s":"Occupational Therapy","x":47.5,"y":0.131},{"m":"BIC","s":"Occupational Therapy","x":51,"y":0.165},{"m":"BIC","s":"Occupational Therapy","x":54,"y":0.173},{"m":"BIC","s":"Occupational Therapy","x":59,"y":0.124},{"m":"BIC","s":"Occupational Therapy","x":64,"y":0.082},{"m":"BIC","s":"Occupational Therapy","x":70.6,"y":0.093},{"m":"BIC","s":"Occupational Therapy","x":77.2,"y":0.082},{"m":"BIC","s":"Occupational Therapy","x":83.8,"y":0.082},{"m":"BIC","s":"Occupational Therapy","x":90.4,"y":0.075},{"m":"BIC","s":"Occupational Therapy","x":95.4,"y":0.047},{"m":"BIC","s":"Occupational Therapy","x":100,"y":0.02},
{"m":"BIC","s":"Physical Therapy","x":0,"y":0},{"m":"BIC","s":"Physical Therapy","x":4.6,"y":0.71},{"m":"BIC","s":"Physical Therapy","x":10.4,"y":1},{"m":"BIC","s":"Physical Therapy","x":14.5,"y":0.815},{"m":"BIC","s":"Physical Therapy","x":18.6,"y":0.536},{"m":"BIC","s":"Physical Therapy","x":22,"y":0.466},{"m":"BIC","s":"Physical Therapy","x":26,"y":0.48},{"m":"BIC","s":"Physical Therapy","x":30.2,"y":0.43},{"m":"BIC","s":"Physical Therapy","x":34.3,"y":0.42},{"m":"BIC","s":"Physical Therapy","x":39.3,"y":0.43},{"m":"BIC","s":"Physical Therapy","x":44,"y":0.396},{"m":"BIC","s":"Physical Therapy","x":49,"y":0.372},{"m":"BIC","s":"Physical Therapy","x":55.8,"y":0.361},{"m":"BIC","s":"Physical Therapy","x":60.7,"y":0.354},{"m":"BIC","s":"Physical Therapy","x":67.3,"y":0.389},{"m":"BIC","s":"Physical Therapy","x":74.8,"y":0.375},{"m":"BIC","s":"Physical Therapy","x":80.5,"y":0.386},{"m":"BIC","s":"Physical Therapy","x":85.5,"y":0.4},{"m":"BIC","s":"Physical Therapy","x":90.4,"y":0.449},{"m":"BIC","s":"Physical Therapy","x":93.7,"y":0.41},{"m":"BIC","s":"Physical Therapy","x":97,"y":0.222},{"m":"BIC","s":"Physical Therapy","x":100,"y":0.027},
{"m":"TRI","s":"In Room","x":0,"y":0.01},{"m":"TRI","s":"In Room","x":3,"y":0.07},{"m":"TRI","s":"In Room","x":7.4,"y":0.124},{"m":"TRI","s":"In Room","x":11.5,"y":0.117},{"m":"TRI","s":"In Room","x":16.5,"y":0.089},{"m":"TRI","s":"In Room","x":23,"y":0.089},{"m":"TRI","s":"In Room","x":28,"y":0.103},{"m":"TRI","s":"In Room","x":33,"y":0.107},{"m":"TRI","s":"In Room","x":37,"y":0.096},{"m":"TRI","s":"In Room","x":39.5,"y":0.117},{"m":"TRI","s":"In Room","x":42.8,"y":0.075},{"m":"TRI","s":"In Room","x":49.4,"y":0.079},{"m":"TRI","s":"In Room","x":56,"y":0.086},{"m":"TRI","s":"In Room","x":61,"y":0.089},{"m":"TRI","s":"In Room","x":65.9,"y":0.1},{"m":"TRI","s":"In Room","x":70,"y":0.117},{"m":"TRI","s":"In Room","x":74.1,"y":0.145},{"m":"TRI","s":"In Room","x":79,"y":0.124},{"m":"TRI","s":"In Room","x":84,"y":0.096},{"m":"TRI","s":"In Room","x":89,"y":0.089},{"m":"TRI","s":"In Room","x":93.9,"y":0.082},{"m":"TRI","s":"In Room","x":100,"y":0.02},
{"m":"TRI","s":"Occupational Therapy","x":0,"y":0.01},{"m":"TRI","s":"Occupational Therapy","x":3.3,"y":0.016},{"m":"TRI","s":"Occupational Therapy","x":9.9,"y":0.027},{"m":"TRI","s":"Occupational Therapy","x":16.5,"y":0.02},{"m":"TRI","s":"Occupational Therapy","x":21.4,"y":0.013},{"m":"TRI","s":"Occupational Therapy","x":26.4,"y":0.033},{"m":"TRI","s":"Occupational Therapy","x":33,"y":0.061},{"m":"TRI","s":"Occupational Therapy","x":38,"y":0.047},{"m":"TRI","s":"Occupational Therapy","x":42.8,"y":0.033},{"m":"TRI","s":"Occupational Therapy","x":49.4,"y":0.061},{"m":"TRI","s":"Occupational Therapy","x":54.4,"y":0.11},{"m":"TRI","s":"Occupational Therapy","x":59.3,"y":0.159},{"m":"TRI","s":"Occupational Therapy","x":64.2,"y":0.131},{"m":"TRI","s":"Occupational Therapy","x":69.2,"y":0.068},{"m":"TRI","s":"Occupational Therapy","x":74.1,"y":0.082},{"m":"TRI","s":"Occupational Therapy","x":79,"y":0.075},{"m":"TRI","s":"Occupational Therapy","x":84,"y":0.117},{"m":"TRI","s":"Occupational Therapy","x":89,"y":0.138},{"m":"TRI","s":"Occupational Therapy","x":93.9,"y":0.082},{"m":"TRI","s":"Occupational Therapy","x":100,"y":0.02},
{"m":"TRI","s":"Physical Therapy","x":0,"y":0},{"m":"TRI","s":"Physical Therapy","x":5,"y":0.64},{"m":"TRI","s":"Physical Therapy","x":11.5,"y":1},{"m":"TRI","s":"Physical Therapy","x":16.5,"y":0.71},{"m":"TRI","s":"Physical Therapy","x":21.4,"y":0.417},{"m":"TRI","s":"Physical Therapy","x":24.7,"y":0.347},{"m":"TRI","s":"Physical Therapy","x":29.7,"y":0.347},{"m":"TRI","s":"Physical Therapy","x":34.6,"y":0.34},{"m":"TRI","s":"Physical Therapy","x":38,"y":0.36},{"m":"TRI","s":"Physical Therapy","x":41.2,"y":0.361},{"m":"TRI","s":"Physical Therapy","x":46.1,"y":0.319},{"m":"TRI","s":"Physical Therapy","x":51,"y":0.264},{"m":"TRI","s":"Physical Therapy","x":57.7,"y":0.236},{"m":"TRI","s":"Physical Therapy","x":62.6,"y":0.25},{"m":"TRI","s":"Physical Therapy","x":65.9,"y":0.292},{"m":"TRI","s":"Physical Therapy","x":69.2,"y":0.292},{"m":"TRI","s":"Physical Therapy","x":74.1,"y":0.267},{"m":"TRI","s":"Physical Therapy","x":79,"y":0.271},{"m":"TRI","s":"Physical Therapy","x":82,"y":0.3},{"m":"TRI","s":"Physical Therapy","x":85.5,"y":0.37},{"m":"TRI","s":"Physical Therapy","x":88.5,"y":0.398},{"m":"TRI","s":"Physical Therapy","x":91.5,"y":0.33},{"m":"TRI","s":"Physical Therapy","x":95,"y":0.15},{"m":"TRI","s":"Physical Therapy","x":100,"y":0.027},
{"m":"WFL","s":"In Room","x":0,"y":0},{"m":"WFL","s":"In Room","x":4.2,"y":0.71},{"m":"WFL","s":"In Room","x":9.2,"y":0.91},{"m":"WFL","s":"In Room","x":13.4,"y":0.64},{"m":"WFL","s":"In Room","x":17.6,"y":0.466},{"m":"WFL","s":"In Room","x":21.8,"y":0.57},{"m":"WFL","s":"In Room","x":27.7,"y":0.763},{"m":"WFL","s":"In Room","x":32.8,"y":0.606},{"m":"WFL","s":"In Room","x":37.8,"y":0.43},{"m":"WFL","s":"In Room","x":42.9,"y":0.396},{"m":"WFL","s":"In Room","x":47.9,"y":0.39},{"m":"WFL","s":"In Room","x":53.8,"y":0.48},{"m":"WFL","s":"In Room","x":58.8,"y":0.39},{"m":"WFL","s":"In Room","x":63,"y":0.36},{"m":"WFL","s":"In Room","x":69.7,"y":0.47},{"m":"WFL","s":"In Room","x":74.8,"y":0.39},{"m":"WFL","s":"In Room","x":77.8,"y":0.375},{"m":"WFL","s":"In Room","x":81.5,"y":0.57},{"m":"WFL","s":"In Room","x":85.7,"y":0.85},{"m":"WFL","s":"In Room","x":90,"y":1},{"m":"WFL","s":"In Room","x":93.3,"y":0.78},{"m":"WFL","s":"In Room","x":96.6,"y":0.36},{"m":"WFL","s":"In Room","x":100,"y":0.027},
{"m":"WFL","s":"Occupational Therapy","x":0,"y":0},{"m":"WFL","s":"Occupational Therapy","x":3.4,"y":0.57},{"m":"WFL","s":"Occupational Therapy","x":7.6,"y":0.857},{"m":"WFL","s":"Occupational Therapy","x":11.8,"y":0.71},{"m":"WFL","s":"Occupational Therapy","x":15,"y":0.43},{"m":"WFL","s":"Occupational Therapy","x":18.5,"y":0.306},{"m":"WFL","s":"Occupational Therapy","x":22.7,"y":0.257},{"m":"WFL","s":"Occupational Therapy","x":27.7,"y":0.25},{"m":"WFL","s":"Occupational Therapy","x":32,"y":0.278},{"m":"WFL","s":"Occupational Therapy","x":35.3,"y":0.302},{"m":"WFL","s":"Occupational Therapy","x":39.5,"y":0.264},{"m":"WFL","s":"Occupational Therapy","x":42,"y":0.253},{"m":"WFL","s":"Occupational Therapy","x":46.2,"y":0.316},{"m":"WFL","s":"Occupational Therapy","x":52,"y":0.278},{"m":"WFL","s":"Occupational Therapy","x":57,"y":0.306},{"m":"WFL","s":"Occupational Therapy","x":61.3,"y":0.292},{"m":"WFL","s":"Occupational Therapy","x":65.5,"y":0.34},{"m":"WFL","s":"Occupational Therapy","x":69.7,"y":0.36},{"m":"WFL","s":"Occupational Therapy","x":74,"y":0.382},{"m":"WFL","s":"Occupational Therapy","x":77.3,"y":0.396},{"m":"WFL","s":"Occupational Therapy","x":80.7,"y":0.39},{"m":"WFL","s":"Occupational Therapy","x":84.9,"y":0.5},{"m":"WFL","s":"Occupational Therapy","x":89,"y":0.696},{"m":"WFL","s":"Occupational Therapy","x":92.4,"y":0.767},{"m":"WFL","s":"Occupational Therapy","x":95.8,"y":0.5},{"m":"WFL","s":"Occupational Therapy","x":100,"y":0.02},
{"m":"WFL","s":"Physical Therapy","x":0,"y":0},{"m":"WFL","s":"Physical Therapy","x":4.2,"y":0.57},{"m":"WFL","s":"Physical Therapy","x":9.2,"y":0.857},{"m":"WFL","s":"Physical Therapy","x":13.4,"y":0.606},{"m":"WFL","s":"Physical Therapy","x":17.6,"y":0.39},{"m":"WFL","s":"Physical Therapy","x":21.8,"y":0.43},{"m":"WFL","s":"Physical Therapy","x":26.9,"y":0.483},{"m":"WFL","s":"Physical Therapy","x":31,"y":0.41},{"m":"WFL","s":"Physical Therapy","x":35.3,"y":0.34},{"m":"WFL","s":"Physical Therapy","x":39.5,"y":0.375},{"m":"WFL","s":"Physical Therapy","x":43.7,"y":0.46},{"m":"WFL","s":"Physical Therapy","x":47.9,"y":0.53},{"m":"WFL","s":"Physical Therapy","x":52,"y":0.644},{"m":"WFL","s":"Physical Therapy","x":55.5,"y":0.5},{"m":"WFL","s":"Physical Therapy","x":58,"y":0.403},{"m":"WFL","s":"Physical Therapy","x":60.5,"y":0.39},{"m":"WFL","s":"Physical Therapy","x":63.9,"y":0.264},{"m":"WFL","s":"Physical Therapy","x":68,"y":0.194},{"m":"WFL","s":"Physical Therapy","x":71.4,"y":0.18},{"m":"WFL","s":"Physical Therapy","x":74.8,"y":0.229},{"m":"WFL","s":"Physical Therapy","x":78.2,"y":0.222},{"m":"WFL","s":"Physical Therapy","x":82.4,"y":0.285},{"m":"WFL","s":"Physical Therapy","x":86.6,"y":0.236},{"m":"WFL","s":"Physical Therapy","x":91.6,"y":0.285},{"m":"WFL","s":"Physical Therapy","x":95,"y":0.243},{"m":"WFL","s":"Physical Therapy","x":100,"y":0.02},
{"m":"WEX","s":"In Room","x":0,"y":0},{"m":"WEX","s":"In Room","x":4.4,"y":0.09},{"m":"WEX","s":"In Room","x":8.6,"y":0.13},{"m":"WEX","s":"In Room","x":12.8,"y":0.085},{"m":"WEX","s":"In Room","x":17.8,"y":0.05},{"m":"WEX","s":"In Room","x":24.6,"y":0.04},{"m":"WEX","s":"In Room","x":33,"y":0.035},{"m":"WEX","s":"In Room","x":41.4,"y":0.03},{"m":"WEX","s":"In Room","x":49.8,"y":0.028},{"m":"WEX","s":"In Room","x":58,"y":0.03},{"m":"WEX","s":"In Room","x":66.7,"y":0.035},{"m":"WEX","s":"In Room","x":75,"y":0.035},{"m":"WEX","s":"In Room","x":81.8,"y":0.045},{"m":"WEX","s":"In Room","x":88.6,"y":0.07},{"m":"WEX","s":"In Room","x":93.6,"y":0.058},{"m":"WEX","s":"In Room","x":100,"y":0.013},
{"m":"WEX","s":"Occupational Therapy","x":0,"y":0},{"m":"WEX","s":"Occupational Therapy","x":4.4,"y":0.08},{"m":"WEX","s":"Occupational Therapy","x":8.6,"y":0.13},{"m":"WEX","s":"Occupational Therapy","x":12.8,"y":0.08},{"m":"WEX","s":"Occupational Therapy","x":17.8,"y":0.047},{"m":"WEX","s":"Occupational Therapy","x":24.6,"y":0.033},{"m":"WEX","s":"Occupational Therapy","x":33,"y":0.027},{"m":"WEX","s":"Occupational Therapy","x":41.4,"y":0.023},{"m":"WEX","s":"Occupational Therapy","x":49.8,"y":0.02},{"m":"WEX","s":"Occupational Therapy","x":58,"y":0.023},{"m":"WEX","s":"Occupational Therapy","x":66.7,"y":0.027},{"m":"WEX","s":"Occupational Therapy","x":75,"y":0.027},{"m":"WEX","s":"Occupational Therapy","x":81.8,"y":0.04},{"m":"WEX","s":"Occupational Therapy","x":88.6,"y":0.068},{"m":"WEX","s":"Occupational Therapy","x":93.6,"y":0.054},{"m":"WEX","s":"Occupational Therapy","x":100,"y":0.013},
{"m":"WEX","s":"Physical Therapy","x":0,"y":0},{"m":"WEX","s":"Physical Therapy","x":4.4,"y":0.57},{"m":"WEX","s":"Physical Therapy","x":9.4,"y":1},{"m":"WEX","s":"Physical Therapy","x":14.5,"y":0.85},{"m":"WEX","s":"Physical Therapy","x":18.7,"y":0.628},{"m":"WEX","s":"Physical Therapy","x":22,"y":0.58},{"m":"WEX","s":"Physical Therapy","x":27,"y":0.58},{"m":"WEX","s":"Physical Therapy","x":32.2,"y":0.53},{"m":"WEX","s":"Physical Therapy","x":37.2,"y":0.487},{"m":"WEX","s":"Physical Therapy","x":41.4,"y":0.48},{"m":"WEX","s":"Physical Therapy","x":45.6,"y":0.5},{"m":"WEX","s":"Physical Therapy","x":49.8,"y":0.51},{"m":"WEX","s":"Physical Therapy","x":54.9,"y":0.49},{"m":"WEX","s":"Physical Therapy","x":59.9,"y":0.48},{"m":"WEX","s":"Physical Therapy","x":66.7,"y":0.44},{"m":"WEX","s":"Physical Therapy","x":71.7,"y":0.474},{"m":"WEX","s":"Physical Therapy","x":75.9,"y":0.44},{"m":"WEX","s":"Physical Therapy","x":82.7,"y":0.39},{"m":"WEX","s":"Physical Therapy","x":86.9,"y":0.46},{"m":"WEX","s":"Physical Therapy","x":91,"y":0.5},{"m":"WEX","s":"Physical Therapy","x":94.4,"y":0.43},{"m":"WEX","s":"Physical Therapy","x":97,"y":0.2},{"m":"WEX","s":"Physical Therapy","x":100,"y":0.02}
]
},
"vconcat": [
{
"data": {"name": "a"},
"bounds": "flush",
"spacing": 166,
"title": {"text": "a", "orient": "left", "angle": 0, "anchor": "middle", "frame": "bounds", "fontSize": 64, "fontWeight": "normal", "font": "Open Sans", "color": "#111111", "offset": 80, "dx": 0, "dy": -50},
"hconcat": [
{"width": 488, "height": 669, "title": "Deltoid", "transform": [{"filter": "datum.m=='DEL'"}],
 "encoding": {
  "x": {"field": "x", "type": "quantitative", "scale": {"domain": [0, 100]}, "axis": {"title": null}},
  "y": {"field": "y", "type": "quantitative", "stack": null, "scale": {"domain": [0, 1]}, "axis": {"format": "~g", "title": "Average Amplitude"}},
  "color": {"field": "s", "type": "nominal", "scale": {"domain": ["Day 3", "Day 19", "3 mo.", "8 mo."], "range": ["#efefef", "#c8c8c8", "#7d7d7d", "#1e1e1e"]}}},
 "layer": [{"transform": [{"filter": "datum.s=='Day 3'"}], "mark": "area"}, {"transform": [{"filter": "datum.s!='Day 3'"}], "mark": "line"}]},
{"width": 488, "height": 669, "title": "Biceps", "transform": [{"filter": "datum.m=='BIC'"}],
 "encoding": {
  "x": {"field": "x", "type": "quantitative", "scale": {"domain": [0, 100]}, "axis": {"title": null}},
  "y": {"field": "y", "type": "quantitative", "stack": null, "scale": {"domain": [0, 1]}, "axis": {"format": "~g", "title": null}},
  "color": {"field": "s", "type": "nominal", "scale": {"domain": ["Day 3", "Day 19", "3 mo.", "8 mo."], "range": ["#efefef", "#c8c8c8", "#7d7d7d", "#1e1e1e"]}}},
 "layer": [{"transform": [{"filter": "datum.s=='Day 3'"}], "mark": "area"}, {"transform": [{"filter": "datum.s!='Day 3'"}], "mark": "line"}]},
{"width": 488, "height": 669, "title": "Triceps", "transform": [{"filter": "datum.m=='TRI'"}],
 "encoding": {
  "x": {"field": "x", "type": "quantitative", "scale": {"domain": [0, 100]}, "axis": {"title": "Percent of Contraction"}},
  "y": {"field": "y", "type": "quantitative", "stack": null, "scale": {"domain": [0, 1]}, "axis": {"format": "~g", "title": null}},
  "color": {"field": "s", "type": "nominal", "scale": {"domain": ["Day 3", "Day 19", "3 mo.", "8 mo."], "range": ["#efefef", "#c8c8c8", "#7d7d7d", "#1e1e1e"]},
   "legend": {"orient": "none", "legendX": 955, "legendY": 776, "direction": "horizontal", "title": null, "symbolSize": 21316, "symbolType": "stroke", "symbolStrokeWidth": 7, "labelOffset": 11, "columnPadding": 6,
    "encode": {"symbols": {"update": {"shape": {"signal": "datum.label == 'Day 3' ? 'M-0.95,-0.22H0.95V0.22H-0.95Z' : 'stroke'"}, "fill": {"signal": "datum.label == 'Day 3' ? '#efefef' : 'transparent'"}}}}}}},
 "layer": [{"transform": [{"filter": "datum.s=='Day 3'"}], "mark": "area"}, {"transform": [{"filter": "datum.s!='Day 3'"}], "mark": "line"}]},
{"width": 488, "height": 669, "title": "Wrist Flexors", "transform": [{"filter": "datum.m=='WFL'"}],
 "encoding": {
  "x": {"field": "x", "type": "quantitative", "scale": {"domain": [0, 100]}, "axis": {"title": null}},
  "y": {"field": "y", "type": "quantitative", "stack": null, "scale": {"domain": [0, 1]}, "axis": {"format": "~g", "title": null}},
  "color": {"field": "s", "type": "nominal", "scale": {"domain": ["Day 3", "Day 19", "3 mo.", "8 mo."], "range": ["#efefef", "#c8c8c8", "#7d7d7d", "#1e1e1e"]}}},
 "layer": [{"transform": [{"filter": "datum.s=='Day 3'"}], "mark": "area"}, {"transform": [{"filter": "datum.s!='Day 3'"}], "mark": "line"}]},
{"width": 488, "height": 669, "title": "Wrist Extensors", "transform": [{"filter": "datum.m=='WEX'"}],
 "encoding": {
  "x": {"field": "x", "type": "quantitative", "scale": {"domain": [0, 100]}, "axis": {"title": null}},
  "y": {"field": "y", "type": "quantitative", "stack": null, "scale": {"domain": [0, 1]}, "axis": {"format": "~g", "title": null}},
  "color": {"field": "s", "type": "nominal", "scale": {"domain": ["Day 3", "Day 19", "3 mo.", "8 mo."], "range": ["#efefef", "#c8c8c8", "#7d7d7d", "#1e1e1e"]}}},
 "layer": [{"transform": [{"filter": "datum.s=='Day 3'"}], "mark": "area"}, {"transform": [{"filter": "datum.s!='Day 3'"}], "mark": "line"}]}
]
},
{
"data": {"name": "b"},
"bounds": "flush",
"spacing": 166,
"title": {"text": "b", "orient": "left", "angle": 0, "anchor": "middle", "frame": "bounds", "fontSize": 64, "fontWeight": "normal", "font": "Open Sans", "color": "#111111", "offset": 80, "dx": 0, "dy": -113},
"hconcat": [
{"width": 488, "height": 679, "title": "Deltoid", "transform": [{"filter": "datum.m=='DEL'"}], "mark": "line",
 "encoding": {
  "x": {"field": "x", "type": "quantitative", "scale": {"domain": [0, 100]}, "axis": {"title": null}},
  "y": {"field": "y", "type": "quantitative", "scale": {"domain": [0, 1]}, "axis": {"format": "~g", "title": "Average Amplitude"}},
  "color": {"field": "s", "type": "nominal", "scale": {"domain": ["In Room", "Occupational Therapy", "Physical Therapy"], "range": ["#c8c8c8", "#7d7d7d", "#1e1e1e"]}}}},
{"width": 488, "height": 679, "title": "Biceps", "transform": [{"filter": "datum.m=='BIC'"}], "mark": "line",
 "encoding": {
  "x": {"field": "x", "type": "quantitative", "scale": {"domain": [0, 100]}, "axis": {"title": null}},
  "y": {"field": "y", "type": "quantitative", "scale": {"domain": [0, 1]}, "axis": {"format": "~g", "title": null}},
  "color": {"field": "s", "type": "nominal", "scale": {"domain": ["In Room", "Occupational Therapy", "Physical Therapy"], "range": ["#c8c8c8", "#7d7d7d", "#1e1e1e"]}}}},
{"width": 488, "height": 679, "title": "Triceps", "transform": [{"filter": "datum.m=='TRI'"}], "mark": "line",
 "encoding": {
  "x": {"field": "x", "type": "quantitative", "scale": {"domain": [0, 100]}, "axis": {"title": "Percent of Contraction"}},
  "y": {"field": "y", "type": "quantitative", "scale": {"domain": [0, 1]}, "axis": {"format": "~g", "title": null}},
  "color": {"field": "s", "type": "nominal", "scale": {"domain": ["In Room", "Occupational Therapy", "Physical Therapy"], "range": ["#c8c8c8", "#7d7d7d", "#1e1e1e"]},
   "legend": {"orient": "none", "legendX": 859, "legendY": 783, "direction": "horizontal", "title": null, "symbolSize": 19044, "symbolType": "stroke", "symbolStrokeWidth": 7, "labelOffset": 10, "columnPadding": 20}}}},
{"width": 488, "height": 679, "title": "Wrist Flexors", "transform": [{"filter": "datum.m=='WFL'"}], "mark": "line",
 "encoding": {
  "x": {"field": "x", "type": "quantitative", "scale": {"domain": [0, 100]}, "axis": {"title": null}},
  "y": {"field": "y", "type": "quantitative", "scale": {"domain": [0, 1]}, "axis": {"format": "~g", "title": null}},
  "color": {"field": "s", "type": "nominal", "scale": {"domain": ["In Room", "Occupational Therapy", "Physical Therapy"], "range": ["#c8c8c8", "#7d7d7d", "#1e1e1e"]}}}},
{"width": 488, "height": 679, "title": "Wrist Extensors", "transform": [{"filter": "datum.m=='WEX'"}], "mark": "line",
 "encoding": {
  "x": {"field": "x", "type": "quantitative", "scale": {"domain": [0, 100]}, "axis": {"title": null}},
  "y": {"field": "y", "type": "quantitative", "scale": {"domain": [0, 1]}, "axis": {"format": "~g", "title": null}},
  "color": {"field": "s", "type": "nominal", "scale": {"domain": ["In Room", "Occupational Therapy", "Physical Therapy"], "range": ["#c8c8c8", "#7d7d7d", "#1e1e1e"]}}}}
]
}
],
"config": {
 "font": "DejaVu Sans",
 "view": {"stroke": "#e2e2e2", "strokeWidth": 2},
 "line": {"interpolate": "monotone", "strokeWidth": 7, "strokeCap": "round", "strokeJoin": "round"},
 "area": {"interpolate": "monotone", "opacity": 1},
 "axis": {"grid": false, "domainColor": "#5a5a5a", "domainWidth": 2.5, "tickColor": "#5a5a5a", "tickWidth": 2.5, "tickSize": -10, "labelFontSize": 40, "labelColor": "#4d4d4d", "labelPadding": 22, "labelFlush": false, "titleFontSize": 42, "titleFontWeight": "normal", "titleColor": "#5a5a5a"},
 "axisX": {"tickCount": 2, "titlePadding": 33},
 "axisY": {"tickCount": 5, "titlePadding": 22},
 "title": {"fontSize": 43, "fontWeight": "bold", "color": "#262626", "offset": -9, "frame": "group", "anchor": "middle", "dx": 12},
 "legend": {"labelFontSize": 37, "labelColor": "#3a3a3a", "padding": 0, "symbolStrokeWidth": 7, "labelLimit": 1000}
}
}
